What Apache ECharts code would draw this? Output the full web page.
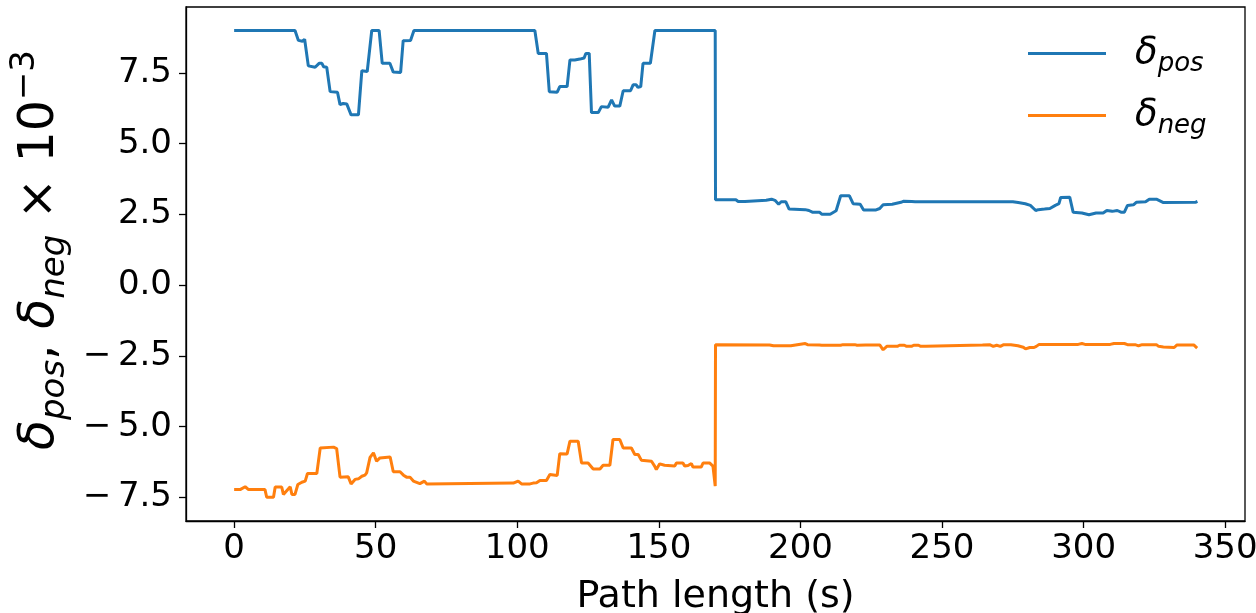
<!DOCTYPE html>
<html>
<head>
<meta charset="utf-8">
<script src="https://cdn.jsdelivr.net/npm/echarts@6/dist/echarts.min.js"></script>
<style>
  html, body { margin: 0; padding: 0; background: #fff; }
  #chart { width: 1256px; height: 613px; }
</style>
</head>
<body>
<div id="chart"></div>
<script>
// Path length (s) and delta values (×10^-3) for the positive bound
const posPath = [0, 21.5, 22.7, 24.1, 24.9, 25.3, 26.2, 28.6, 30.0, 31.0, 31.6, 32.7, 33.9, 36.5, 37.4, 38.5, 39.8, 41.3, 43.9, 45.1, 47.0, 47.4, 48.6, 51.2, 52.3, 55.0, 56.2, 58.8, 59.7, 62.3, 63.5,
  106.2, 107.4, 110.3, 111.3, 114.1, 115.0, 117.6, 118.6, 120.3, 122.1, 123.6, 124.2, 125.4, 126.2, 128.6, 129.7, 132.1, 133.3, 134.4, 136.2, 137.4, 140.0, 140.9, 142.0, 142.6, 143.6, 144.4, 147.0, 148.6, 169.9,
  170.0, 177.2, 178.0, 180.4, 181.0, 187.9, 189.8, 191.0, 192.3, 193.2, 194.8, 196.0, 201.7, 203.0, 204.2, 206.7, 207.5, 210.5, 211.7, 212.6, 213.0, 214.2, 217.3, 218.6, 221.1, 222.3, 226.7, 228.0, 229.2, 232.4, 233.0, 235.5, 236.5, 239.3, 240.5,
  275.0, 276.9, 279.4, 281.2, 283.1, 284.0, 286.2, 288.1, 290.0, 291.3, 291.9, 295.1, 296.3, 299.4, 301.9, 304.4, 306.9, 308.2, 310.1, 311.9, 313.2, 314.4, 315.5, 317.6, 318.6, 321.9, 323.2, 325.7, 328.2, 339.5, 340.2];
const posDelta = [9.0, 9.0, 8.65, 8.62, 8.69, 8.68, 7.75, 7.70, 7.84, 7.84, 7.72, 7.70, 6.84, 6.82, 6.38, 6.42, 6.40, 6.02, 6.02, 7.58, 7.55, 7.58, 9.0, 9.0, 7.84, 7.84, 7.53, 7.52, 8.64, 8.65, 9.0,
  9.0, 8.19, 8.19, 6.84, 6.82, 7.02, 7.02, 7.96, 7.96, 7.99, 8.03, 8.19, 8.19, 6.10, 6.10, 6.31, 6.29, 6.55, 6.33, 6.33, 6.87, 6.87, 7.08, 7.08, 6.99, 7.02, 7.84, 7.84, 9.0, 9.0,
  3.02, 3.02, 2.96, 2.96, 3.0, 3.0, 3.04, 3.0, 2.86, 2.95, 2.95, 2.69, 2.67, 2.64, 2.58, 2.58, 2.51, 2.51, 2.58, 2.63, 2.63, 3.16, 3.16, 2.88, 2.86, 2.66, 2.66, 2.71, 2.84, 2.86, 2.93, 2.93, 2.97, 2.96, 2.95,
  2.95, 2.92, 2.88, 2.82, 2.64, 2.67, 2.69, 2.71, 2.82, 2.88, 3.10, 3.11, 2.58, 2.55, 2.49, 2.55, 2.55, 2.64, 2.61, 2.64, 2.58, 2.58, 2.82, 2.84, 2.93, 2.95, 3.04, 3.04, 2.92, 2.93, 2.96];

// Path length (s) and delta values (×10^-3) for the negative bound
const negPath = [0, 2.1, 3.9, 4.5, 5.1, 10.9, 11.5, 13.9, 14.5, 16.8, 17.4, 19.8, 20.4, 21.5, 22.5, 23.9, 25.1, 25.9, 29.2, 30.4, 35.1, 36.2, 37.4, 40.3, 41.3, 42.7, 43.9, 45.1, 46.2, 46.8, 47.5, 48.0, 49.2, 50.3, 51.5, 52.1, 55.1, 56.2, 58.6, 59.8, 60.9, 62.1, 63.3, 65.6, 67.2, 68.0,
  98.6, 99.2, 100.3, 101.5, 104.5, 105.6, 106.8, 108.0, 110.3, 111.5, 114.1, 115.0, 117.6, 118.6, 121.5, 122.7, 125.0, 126.8, 129.2, 130.3, 132.7, 133.8, 136.2, 137.4, 140.3, 141.5, 142.7, 143.8, 144.5, 147.4, 148.5, 149.1, 149.7, 150.3, 152.0, 155.6, 156.2, 158.5, 159.1, 160.3, 161.5, 162.0, 165.0, 165.6, 167.9, 169.1, 169.8, 169.9,
  170.0, 189.1, 190.5, 196.6, 201.7, 202.5, 206.7, 207.5, 214.2, 215.0, 219.2, 220.0, 223.0, 228.0, 229.2, 230.5, 234.2, 235.0, 236.7, 237.5, 239.2, 240.0, 241.7, 242.5, 244.3, 245.0,
  264.3, 265.0, 266.8, 267.5, 268.1, 269.3, 270.6, 271.8, 274.3, 275.0, 276.8, 277.5, 278.7, 279.5, 280.0, 281.0, 282.5, 283.3, 284.3, 298.1, 299.4, 300.5, 309.4, 310.7, 314.4, 315.5, 318.2, 319.4, 320.7, 325.7, 326.5, 328.2, 332.0, 333.0, 338.9, 339.5, 340.1];
const negDelta = [-7.22, -7.22, -7.12, -7.10, -7.22, -7.22, -7.49, -7.49, -7.13, -7.13, -7.39, -7.12, -7.39, -7.39, -7.04, -6.96, -6.92, -6.65, -6.65, -5.75, -5.72, -5.77, -6.78, -6.77, -7.02, -6.86, -6.84, -6.75, -6.71, -6.63, -6.69, -6.08, -5.92, -6.22, -6.10, -6.07, -6.07, -6.59, -6.59, -6.71, -6.78, -6.78, -6.92, -7.01, -6.92, -7.02,
  -6.99, -6.92, -6.92, -7.02, -7.02, -6.99, -6.98, -6.90, -6.90, -6.69, -6.72, -5.95, -5.96, -5.51, -5.51, -6.28, -6.28, -6.49, -6.49, -6.36, -6.36, -5.45, -5.45, -5.75, -5.75, -5.98, -5.98, -6.18, -6.22, -6.22, -6.39, -6.51, -6.51, -6.31, -6.36, -6.39, -6.28, -6.28, -6.39, -6.37, -6.30, -6.42, -6.42, -6.28, -6.28, -6.39, -6.34, -7.10,
  -2.10, -2.11, -2.14, -2.14, -2.06, -2.10, -2.11, -2.12, -2.12, -2.10, -2.10, -2.12, -2.11, -2.11, -2.28, -2.16, -2.16, -2.12, -2.12, -2.16, -2.16, -2.12, -2.12, -2.16, -2.16, -2.11,
  -2.11, -2.10, -2.10, -2.16, -2.16, -2.12, -2.16, -2.10, -2.10, -2.14, -2.14, -2.19, -2.19, -2.25, -2.24, -2.20, -2.20, -2.16, -2.09, -2.09, -2.06, -2.09, -2.09, -2.06, -2.06, -2.10, -2.10, -2.14, -2.10, -2.10, -2.16, -2.18, -2.20, -2.11, -2.11, -2.08, -2.22];

// Axis ticks
const xTicks = [0, 50, 100, 150, 200, 250, 300, 350];
const yTicks = [-7.5, -5.0, -2.5, 0.0, 2.5, 5.0, 7.5];

const FONT = 'DejaVu Sans';
const BLUE = '#1f77b4';
const ORANGE = '#ff7f0e';

function pairs(xs, ys) {
  return xs.map((x, i) => [x, ys[i]]);
}
function fmtTick(v) {
  return (v < 0 ? '\u2212\u2009' : '') + Math.abs(v).toFixed(1);
}

// Rich text styles for the math labels: italic symbol, subscript, upright text, superscript
const mathRich = (big, small, shift) => ({
  d: { fontFamily: FONT, fontStyle: 'italic', fontSize: big, color: '#000', lineHeight: big * 1.3, verticalAlign: 'middle' },
  s: { fontFamily: FONT, fontStyle: 'italic', fontSize: small, color: '#000', verticalAlign: 'bottom', padding: [shift, 0, 0, 0] },
  t: { fontFamily: FONT, fontSize: big, color: '#000', lineHeight: big * 1.3, verticalAlign: 'middle' },
  e: { fontFamily: FONT, fontSize: small, color: '#000', verticalAlign: 'top', padding: [0, 0, shift, 0] }
});

const chart = echarts.init(document.getElementById('chart'), null, { renderer: 'canvas' });

function legendFor(name, sub, top) {
  const r = mathRich(37, 26, 14);
  r.d = Object.assign({}, r.d, { padding: [0, 0, 0, 24] });
  return {
    show: true,
    orient: 'vertical',
    left: 1023,
    top: top,
    data: [name],
    icon: 'rect',
    itemWidth: 78,
    itemHeight: 3,
    selectedMode: false,
    formatter: () => '{d|δ}{s|' + sub + '}',
    textStyle: { rich: r }
  };
}

chart.setOption({
  animation: false,
  backgroundColor: '#fff',
  grid: {
    left: 186, right: 11, top: 7, bottom: 92,
    show: true, borderColor: '#000', borderWidth: 1.3,
    outerBoundsMode: 'none'
  },
  legend: [legendFor('δ_pos', 'pos', 30), legendFor('δ_neg', 'neg', 92)],
  xAxis: {
    type: 'value',
    min: -17, max: 357,
    name: 'Path length (s)',
    nameLocation: 'middle',
    nameGap: 57,
    nameTextStyle: { fontFamily: FONT, fontSize: 38, color: '#000' },
    axisLine: { show: true, onZero: false, lineStyle: { color: '#000', width: 1.3 } },
    axisTick: { show: true, length: 7, inside: false, customValues: xTicks, lineStyle: { color: '#000', width: 1.3 } },
    axisLabel: { show: true, customValues: xTicks, margin: 11, fontFamily: FONT, fontSize: 34, color: '#000' },
    splitLine: { show: false }
  },
  yAxis: {
    type: 'value',
    min: -8.33, max: 9.83,
    name: '{d|δ}{s|pos}{t|, }{d|δ}{s|neg}{t| × 10}{e|\u22123}',
    nameLocation: 'middle',
    nameRotate: 90,
    nameGap: 108,
    nameTextStyle: { rich: mathRich(49, 34, 18), padding: [0, 0, 0, 28] },
    axisLine: { show: true, onZero: false, lineStyle: { color: '#000', width: 1.3 } },
    axisTick: { show: true, length: 7, inside: false, customValues: yTicks, lineStyle: { color: '#000', width: 1.3 } },
    axisLabel: { show: true, customValues: yTicks, margin: 14, fontFamily: FONT, fontSize: 34, color: '#000', formatter: fmtTick },
    splitLine: { show: false }
  },
  series: [
    {
      name: 'δ_pos', type: 'line', data: pairs(posPath, posDelta),
      symbol: 'none', showSymbol: false, color: BLUE,
      lineStyle: { color: BLUE, width: 3 }
    },
    {
      name: 'δ_neg', type: 'line', data: pairs(negPath, negDelta),
      symbol: 'none', showSymbol: false, color: ORANGE,
      lineStyle: { color: ORANGE, width: 3 }
    }
  ]
});
</script>
</body>
</html>
